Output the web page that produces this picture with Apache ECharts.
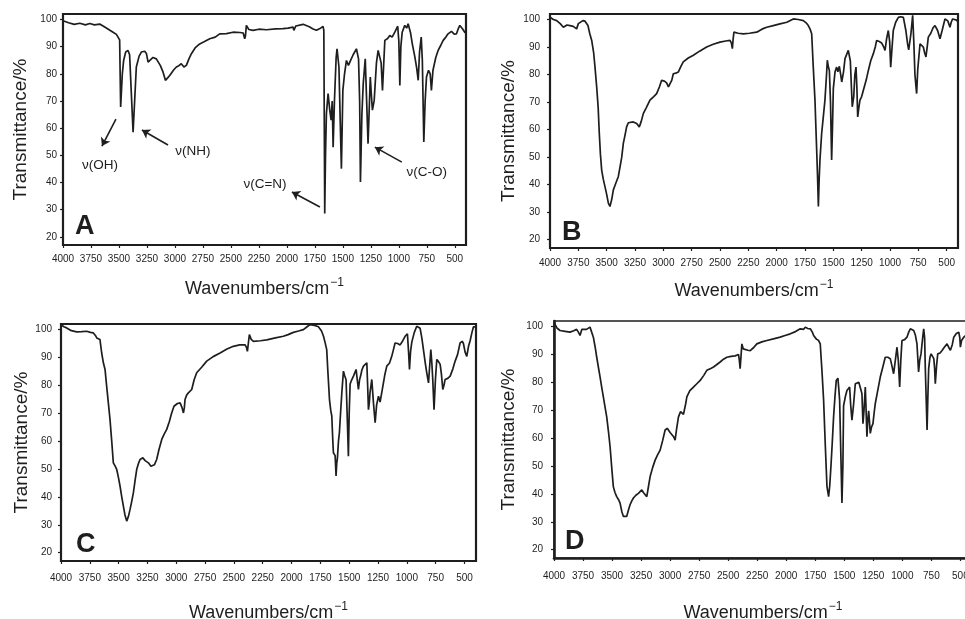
<!DOCTYPE html>
<html>
<head>
<meta charset="utf-8">
<script src="https://cdn.jsdelivr.net/npm/echarts@6/dist/echarts.min.js"></script>
<style>
html, body { margin: 0; padding: 0; background: #fff; }
#container { width: 965px; height: 619px; }
</style>
</head>
<body>
<div id="container"></div>
<script>
// tick labels
const xTicks = [4000, 3750, 3500, 3250, 3000, 2750, 2500, 2250, 2000, 1750, 1500, 1250, 1000, 750, 500];
const yTicks = [20, 30, 40, 50, 60, 70, 80, 90, 100];
const panelLetters = ['A', 'B', 'C', 'D'];

// spectra, [wavenumber, transmittance %]
const specA = [
  [4000,99.5],[3950,98.8],[3900,98.2],[3850,98.6],[3800,98],[3760,98.5],[3720,98],[3672,98.3],[3620,97],[3560,95.5],
  [3523,94.5],[3494,92.5],[3485,67.8],[3470,80],[3458,85],[3440,88],[3419,88.6],[3405,87],[3392,75],[3374,58.5],
  [3360,70],[3345,82.5],[3320,86.5],[3300,88],[3270,88.3],[3255,87.5],[3240,84.3],[3226,84.3],[3196,86],[3166,85.5],
  [3130,83],[3106,80.6],[3085,77.6],[3065,78.5],[3047,79.4],[3010,81.5],[2987,82.5],[2965,83],[2943,83.7],[2920,82.5],
  [2898,83.1],[2875,85.5],[2853,87.4],[2820,89.5],[2779,91],[2740,91.8],[2689,92.9],[2640,93.5],[2600,94.7],[2540,94.8],
  [2481,95.3],[2420,95.2],[2390,95],[2377,92.9],[2370,94],[2362,97.8],[2340,96.3],[2302,96],[2250,96.4],[2183,96.2],
  [2100,96.5],[2034,96.6],[1990,96.8],[1945,97.2],[1938,96],[1920,97.6],[1855,98.2],[1800,97.3],[1766,96.5],[1736,96],
  [1700,96.8],[1677,97.4],[1670,96],[1662,28.6],[1655,50],[1647,65.3],[1632,72.7],[1617,66.6],[1605,62.9],[1595,70],
  [1587,53],[1575,70.2],[1560,86],[1552,89.2],[1535,82.5],[1522,60],[1513,45.1],[1500,73.9],[1485,80],[1468,84.9],
  [1450,83.1],[1430,85],[1408,87],[1379,89.2],[1360,85.5],[1350,70],[1343,40.2],[1330,65],[1318,76.4],[1300,85.5],
  [1289,85.5],[1275,54.3],[1262,70],[1255,78.8],[1245,72],[1236,66.6],[1220,70.2],[1200,84],[1185,88.6],[1170,88.8],
  [1158,84],[1146,73.9],[1130,88],[1125,92.3],[1100,93],[1081,94.1],[1060,93.5],[1036,95.3],[1010,97.5],[1000,92],
  [991,75.7],[982,90],[970,95.3],[947,97.8],[930,96.8],[917,98.4],[895,95],[880,91.1],[857,86.2],[840,82],
  [827,77.6],[815,88],[800,93.5],[790,85],[777,54.9],[765,70],[753,78.8],[735,81.3],[720,80],[709,73.9],
  [695,81.3],[670,86],[649,88.6],[625,90.5],[604,92.3],[580,93.5],[560,94.7],[530,95.6],[505,94.6],[485,94.7],
  [470,96.5],[455,97.8],[430,96.5],[411,95.3],[400,95]
];
const specB = [
  [4000,100.8],[3970,100],[3941,99.6],[3910,98.5],[3882,97.2],[3850,98],[3824,97.8],[3795,97.5],[3765,96.6],[3750,98.5],
  [3735,99],[3710,99.6],[3691,99.4],[3665,97.8],[3650,95],[3632,92.4],[3615,88],[3603,82.7],[3588,75.5],[3575,68],
  [3565,58.6],[3555,51],[3544,45.3],[3530,42],[3515,39.3],[3500,36.5],[3485,33.3],[3471,32.1],[3456,34.5],[3441,38.1],
  [3426,39.8],[3412,40.5],[3397,43],[3382,46.5],[3367,50],[3353,55],[3338,58],[3324,61],[3309,62.5],[3294,62.8],
  [3265,62.8],[3235,62.2],[3212,61],[3195,63],[3176,65.9],[3150,68],[3118,70.7],[3085,72],[3059,73.1],[3035,75.5],
  [3015,77.9],[2990,77.6],[2971,77],[2955,75.5],[2941,74.9],[2925,78],[2912,80.3],[2890,80.5],[2868,80.9],[2845,83],
  [2824,84.6],[2780,86],[2735,87],[2680,88.5],[2618,90],[2560,91],[2500,91.8],[2450,92.2],[2412,92.4],[2400,91.5],
  [2391,89.4],[2384,93],[2377,95.4],[2340,95],[2294,94.8],[2240,95],[2176,95.4],[2130,96.5],[2088,97.2],[2030,97.8],
  [1971,98.4],[1910,99],[1853,100.2],[1810,100],[1765,99.6],[1740,98.8],[1721,97.8],[1705,96.5],[1691,94.8],[1677,82.7],
  [1662,70.7],[1647,52.6],[1640,44],[1632,32.1],[1625,42],[1618,49],[1603,58.6],[1590,64],[1574,70.7],[1560,80],
  [1553,85.2],[1545,83],[1535,81.5],[1525,70],[1515,49],[1508,60],[1500,75],[1485,81],[1471,82.7],[1460,81],
  [1447,83],[1435,80],[1426,77.3],[1410,81],[1397,85.8],[1380,86],[1368,88.8],[1350,85],[1340,75],[1333,68.3],
  [1320,72],[1310,80],[1300,82.7],[1292,75],[1285,64.6],[1275,68],[1265,70.7],[1250,72],[1235,74.3],[1210,78],
  [1191,81.5],[1170,85],[1147,87.6],[1130,90],[1118,92.4],[1095,92],[1074,91.5],[1055,90],[1044,88.8],[1030,93],
  [1015,96],[1003,92],[994,82.7],[985,88],[971,96],[950,99],[926,100.8],[905,101],[882,100.8],[860,96],
  [845,91.2],[835,89],[824,88.8],[815,95],[800,101.5],[790,92],[780,80],[765,73.1],[755,82],[735,91.2],
  [720,90.5],[706,90],[695,88],[683,86.4],[672,90],[662,93.6],[640,95],[620,97],[603,97.8],[580,96],
  [559,93],[540,96],[515,100.2],[490,99.5],[471,97.2],[460,99],[447,100.2],[430,99.5],[412,99.8],[400,99]
];
const specC = [
  [4000,101.8],[3975,101],[3951,100.6],[3910,99.6],[3864,99.2],[3820,99.3],[3777,99.4],[3745,99],[3719,98.8],[3700,97.8],
  [3690,97],[3662,96.4],[3647,91.6],[3632,88],[3618,85.7],[3604,79.7],[3590,74],[3575,67.8],[3560,60],[3546,52.2],
  [3530,51],[3517,49.9],[3502,47],[3488,43.9],[3473,40],[3459,36.7],[3445,33.5],[3430,31.3],[3415,33],[3401,35.5],
  [3386,38.5],[3372,41.5],[3357,46],[3343,49.9],[3328,52],[3314,53.4],[3290,54],[3270,53],[3242,52.2],[3220,51],
  [3205,50.4],[3190,51.5],[3170,53.4],[3150,57],[3126,60.6],[3105,62.5],[3083,64.2],[3060,67],[3040,70.1],[3020,72.5],
  [3011,73.1],[2990,73.5],[2967,73.7],[2950,72],[2938,70.1],[2930,72],[2924,74.9],[2910,76.5],[2895,77.3],[2880,77.5],
  [2866,78.5],[2845,82],[2823,84.5],[2780,86.5],[2736,88.7],[2680,90.3],[2620,91.6],[2560,93],[2505,94],[2450,94.5],
  [2403,94.5],[2390,93.5],[2383,92.2],[2375,95],[2366,98.2],[2350,96.5],[2331,95.8],[2270,96],[2215,96.3],[2140,97],
  [2071,97.6],[2030,98.2],[1984,99],[1940,99.5],[1897,100],[1860,101.2],[1839,101.8],[1800,101.5],[1767,101],[1740,99.5],
  [1723,97.6],[1710,95.5],[1695,92.8],[1685,85],[1671,74.9],[1660,71],[1651,69],[1642,60],[1637,55.8],[1622,54.8],
  [1614,47.5],[1608,52],[1602,54],[1593,60],[1585,63],[1575,70],[1564,77.3],[1550,85.1],[1540,83.5],[1527,82],
  [1515,66],[1507,54.6],[1500,70],[1492,80.5],[1478,82],[1463,83.3],[1450,84],[1440,85.7],[1430,82],[1420,78.5],
  [1410,82],[1400,83.5],[1390,85.5],[1376,86.9],[1360,87],[1347,88.1],[1340,80],[1333,71.3],[1325,74],[1319,77.5],
  [1304,82.1],[1290,74],[1275,66.6],[1262,73],[1246,76.1],[1232,74],[1215,78],[1203,80.9],[1190,84],[1174,86.9],
  [1150,88],[1131,90.4],[1115,93],[1102,95.2],[1080,95],[1058,94.5],[1035,96],[1015,97.6],[995,98.5],[985,92],
  [977,85.7],[968,92],[957,95.5],[935,99],[914,101.2],[900,101.5],[885,100.5],[870,97],[856,92.8],[840,88],
  [827,84.5],[812,80.9],[800,88],[792,92.8],[783,88],[775,82],[764,71.3],[752,82],[740,89.3],[725,88.5],
  [711,87.5],[700,84],[688,78.5],[678,80],[668,82.1],[645,82.5],[624,83.3],[600,86],[581,88.7],[560,91],
  [538,95.2],[520,95.8],[509,95],[495,92],[480,90.4],[465,94],[451,96],[435,99],[422,101],[410,101.5],[400,101]
];
const specD = [
  [4000,101.5],[3975,99.5],[3948,98.6],[3905,98.3],[3862,98],[3830,98.5],[3805,99],[3790,98],[3776,96.8],[3760,99],
  [3747,99.5],[3720,99],[3704,99.3],[3690,99.8],[3675,100.2],[3661,96.2],[3645,92.5],[3632,89],[3618,85.5],[3603,81.9],
  [3590,78.5],[3575,74.8],[3560,71],[3546,67.6],[3530,62],[3517,56.9],[3500,48],[3489,42.6],[3475,40.5],[3460,39],
  [3445,38],[3431,36.7],[3415,33.5],[3402,31.9],[3388,31.5],[3374,31.9],[3360,34],[3345,36.1],[3330,37.5],[3316,38.5],
  [3295,39.5],[3273,40.2],[3258,40.8],[3244,41.4],[3230,40.5],[3216,40],[3201,39],[3185,43],[3172,46.2],[3150,49.5],
  [3129,52.1],[3108,54],[3086,55.7],[3065,59],[3043,62.9],[3025,63.5],[3014,63],[3000,62],[2986,62],[2970,60.5],
  [2957,59.3],[2945,63],[2928,67.6],[2910,69.5],[2899,70],[2885,68.5],[2879,68.5],[2865,72.5],[2856,74.8],[2830,77],
  [2799,78.3],[2770,79.5],[2741,80.7],[2710,82.5],[2684,84.3],[2650,85],[2626,85.5],[2600,86.3],[2569,87.3],[2540,88.3],
  [2511,89],[2475,89.3],[2440,89.5],[2411,90],[2404,88],[2397,84.9],[2390,89],[2382,93.8],[2370,92],[2353,92.5],
  [2330,91.5],[2310,91.4],[2280,92.5],[2253,93.8],[2210,94.5],[2167,95],[2110,95.6],[2052,96.2],[2010,96.8],[1965,97.4],
  [1920,98.2],[1879,99.2],[1850,99],[1836,99.8],[1815,99.3],[1793,99.2],[1775,98],[1764,96.8],[1740,95.5],[1721,95],
  [1707,93.8],[1692,84],[1678,73.6],[1664,58],[1649,42.6],[1635,39],[1625,43],[1615,49.8],[1604,58],[1592,67.6],
  [1580,75],[1569,80.7],[1555,81.5],[1548,78],[1540,73.6],[1530,55],[1520,36.7],[1512,50],[1506,71.6],[1490,75],
  [1477,77.1],[1465,77.5],[1454,78.3],[1445,72],[1434,66.4],[1420,72],[1405,79.5],[1390,79.8],[1375,80],[1362,79.5],
  [1348,76],[1339,65.2],[1330,70],[1319,78.3],[1312,70],[1305,60.5],[1298,66],[1290,69.8],[1283,66],[1276,61.7],
  [1265,64],[1253,65.2],[1243,69],[1233,72.4],[1210,77.5],[1190,81.9],[1168,85.5],[1147,89],[1125,89],[1104,88.5],
  [1090,86],[1075,83.1],[1060,88],[1046,92.6],[1035,88],[1023,78.3],[1013,88],[1003,95],[980,95.3],[960,96.2],
  [945,98],[931,99.2],[915,99.3],[902,98.6],[888,97],[874,93.8],[860,83.7],[850,88],[839,90.2],[825,96],
  [816,99.2],[808,96],[802,85],[787,62.9],[780,75],[773,85],[762,89],[752,90.2],[740,90],[729,88.5],
  [722,85],[716,79.5],[705,86],[695,90.2],[675,90.5],[658,91.4],[640,92.5],[615,93.8],[600,92.5],[586,91.5],
  [570,93.5],[557,96.2],[535,97.5],[514,98],[505,96],[500,92.6],[490,95],[471,96.2],[450,97],[430,97.5],[400,98]
];
const spectra = [specA, specB, specC, specD];

// band assignments in panel A (arrow start, arrow end, label position)
const arrowsA = [
  [[3527, 63.3], [3652, 53.4]],
  [[3062, 53.8], [3295, 59.3]],
  [[1705, 31.0], [1955, 36.5]],
  [[973, 47.5], [1214, 53.0]]
];
const bandLabelsA = [
  { name: 'ν(OH)', coord: [3670, 46.4] },
  { name: 'ν(NH)', coord: [2839, 51.6] },
  { name: 'ν(C=N)', coord: [2196, 39.4] },
  { name: 'ν(C-O)', coord: [750, 43.9] }
];

const font = 'Liberation Sans, Arial, sans-serif';
const ink = '#1e1e1e';

// panel geometry
const panels = [
  { left: 63, top: 14, width: 403, height: 231, xMargin: 9, xGap: 32, yMargin: 6, yGap: 33, letter: [75, 213], border: 2.2 },
  { left: 550, top: 14, width: 408, height: 234, xMargin: 10, xGap: 31, yMargin: 10, yGap: 32, letter: [562, 219], border: 2.2 },
  { left: 61, top: 324, width: 415, height: 237, xMargin: 12, xGap: 40, yMargin: 9, yGap: 29, letter: [76, 531], border: 2.2 },
  { left: 554, top: 321, width: 418, height: 237, xMargin: 13, xGap: 43, yMargin: 11, yGap: 36, letter: [565, 528], border: 1.3 }
];

let myChart = echarts.init(document.getElementById('container'));

let grids = [], xAxes = [], yAxes = [], series = [], letters = [];
panels.forEach(function (p, i) {
  grids.push({
    left: p.left, top: p.top, width: p.width, height: p.height,
    outerBoundsMode: 'none', containLabel: false,
    show: true, borderColor: ink, borderWidth: p.border, backgroundColor: '#fff'
  });
  xAxes.push({
    gridIndex: i, type: 'value', inverse: true, min: 400, max: 4000,
    axisLine: { show: i === 3, lineStyle: { color: ink, width: 2.6 } },
    splitLine: { show: false },
    axisTick: { show: true, length: 3, customValues: xTicks, lineStyle: { color: ink, width: 1.2 } },
    axisLabel: {
      customValues: xTicks, margin: p.xMargin, color: ink, fontSize: 10, fontFamily: font,
      formatter: function (v) { return String(v); }
    },
    name: 'Wavenumbers/cm{sup|−1}',
    nameLocation: 'middle', nameGap: p.xGap,
    nameTextStyle: {
      fontSize: 18, color: ink, fontFamily: font,
      rich: { sup: { fontSize: 12, color: ink, fontFamily: font, padding: [0, 0, 12, 1] } }
    }
  });
  yAxes.push({
    gridIndex: i, type: 'value', min: 17, max: 102,
    axisLine: { show: i === 3, lineStyle: { color: ink, width: 2.6 } },
    splitLine: { show: false },
    axisTick: { show: true, length: 3, customValues: yTicks, lineStyle: { color: ink, width: 1.2 } },
    axisLabel: {
      customValues: yTicks, margin: p.yMargin, color: ink, fontSize: 10, fontFamily: font,
      formatter: function (v) { return String(v); }
    },
    name: 'Transmittance/%',
    nameLocation: 'middle', nameGap: p.yGap,
    nameTextStyle: { fontSize: 19, color: ink, fontFamily: font }
  });
  series.push({
    type: 'line', xAxisIndex: i, yAxisIndex: i,
    data: spectra[i],
    showSymbol: false, symbol: 'none', clip: true,
    lineStyle: { color: ink, width: 1.7 },
    animation: false, silent: true
  });
  letters.push({
    type: 'text', left: p.letter[0], top: p.letter[1],
    style: { text: panelLetters[i], font: 'bold 27px ' + font, fill: ink }
  });
});

// arrows and band labels on panel A
series[0].markLine = {
  silent: true, animation: false,
  symbol: ['none', 'arrow'], symbolSize: 8,
  label: { show: false },
  lineStyle: { color: ink, width: 1.6, type: 'solid' },
  data: arrowsA.map(function (a) { return [{ coord: a[0] }, { coord: a[1] }]; })
};
series[0].markPoint = {
  silent: true, animation: false,
  symbol: 'circle', symbolSize: 1,
  itemStyle: { color: 'rgba(0,0,0,0)' },
  label: { show: true, position: 'inside', formatter: '{b}', color: ink, fontSize: 13.5, fontFamily: font },
  data: bandLabelsA
};

let option = {
  backgroundColor: '#fff',
  animation: false,
  grid: grids,
  xAxis: xAxes,
  yAxis: yAxes,
  series: series,
  graphic: letters
};

myChart.setOption(option);
window.onresize = myChart.resize;
</script>
</body>
</html>
